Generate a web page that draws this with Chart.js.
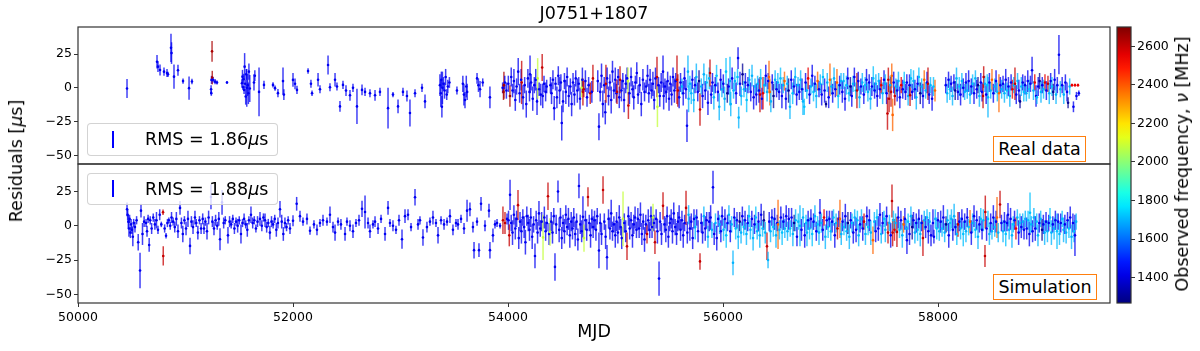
<!DOCTYPE html>
<html>
<head>
<meta charset="utf-8">
<script src="https://cdn.jsdelivr.net/npm/chart.js@4.4.1/dist/chart.umd.min.js"></script>
<style>
  body { margin: 0; background: #fff; font-family: "DejaVu Sans", sans-serif; }
  #wrap { position: relative; width: 1200px; height: 351px; overflow: hidden; }
  canvas { position: absolute; }
  .txt { position: absolute; color: #000; white-space: nowrap; font-size: 17.5px; }
  .rot { transform: translate(-50%, -50%) rotate(-90deg); }
  .leg { position: absolute; box-sizing: border-box; border: 1px solid rgba(200,200,200,0.8);
         border-radius: 4px; background: rgba(255,255,255,0.8); }
  .leg .mk { position: absolute; width: 1.5px; height: 17px; background: #0000ff; }
  .leg .lt { position: absolute; left: 57px; top: 0; font-size: 17.5px; }
  .tag { position: absolute; box-sizing: border-box; border: 1.5px solid #ff7f0e; background: #fff;
         display: flex; align-items: center; justify-content: center; font-size: 17.5px; }
</style>
</head>
<body>
<div id="wrap">
  <canvas id="top" width="1200" height="166" style="left:0;top:0"></canvas>
  <canvas id="bot" width="1200" height="191" style="left:0;top:160px"></canvas>
  <canvas id="cbar" width="90" height="351" style="left:1110px;top:0"></canvas>

  <div class="txt" style="left:594px;top:3px;transform:translateX(-50%)">J0751+1807</div>
  <div class="txt rot" style="left:16px;top:161px">Residuals [<i>μ</i>s]</div>
  <div class="txt rot" style="left:1182px;top:164px">Observed frequency, <i>ν</i> [MHz]</div>

  <div class="leg" style="left:87px;top:123px;width:191px;height:33px">
    <span class="mk" style="left:24px;top:7px"></span>
    <span class="lt" style="line-height:31px">RMS = 1.86<i>μ</i>s</span>
  </div>
  <div class="leg" style="left:87px;top:173px;width:191px;height:32px">
    <span class="mk" style="left:24px;top:6px"></span>
    <span class="lt" style="line-height:30px">RMS = 1.88<i>μ</i>s</span>
  </div>
  <div class="tag" style="left:993px;top:136px;width:93px;height:26px">Real data</div>
  <div class="tag" style="left:993px;top:274px;width:104px;height:26px">Simulation</div>
</div>

<script>
// axes
const xMin = 50000, xMax = 59600;
const yMin = -56.3, yMax = 45;
const cbMin = 1268, cbMax = 2700;
const xTicks = [50000, 52000, 54000, 56000, 58000];
const yTicks = [-50, -25, 0, 25];
const cbTicks = [1400, 1600, 1800, 2000, 2200, 2400, 2600];

// real data (top panel): MJD, residual [us], error [us], frequency [MHz]
const topMjd = [
  50456,50735,50744,50763,50800,50828,50837,50865,50870,50893,50930,50977,51033,51060,51238,51240,51242,51247,51249,51256,51275,51293,51386,
  51525,51530,51535,51540,51545,51550,51555,51560,51565,51570,51578,51585,51590,51598,51637,51645,51684,51730,51814,51833,51860,51907,51915,
  52000,52019,52037,52140,52167,52177,52233,52251,52326,52344,52391,52409,52437,52465,52493,52530,52558,52595,52642,52670,52716,52763,52809,
  52884,52930,52977,53023,53060,53088,53135,53200,53228,53367,53375,53380,53385,53390,53400,53410,53420,53430,53440,53455,53525,
  53580,53590,53600,53612,53620,53712,53725,53740,53765,53832,53950,53958,53962,53970,53985,
  54003,54018,54030,54042,54055,54068,54080,54095,54108,54122,54127,54140,54155,54170,54185,
  54200,54205,54215,54230,54245,54258,54270,54276,54290,54305,54318,54323,54335,54350,54360,
  54395,54405,54418,54430,54442,54455,54468,54480,54492,54500,54512,54525,54538,54550,54565,54580,54592,
  54605,54618,54630,54645,54658,54670,54685,54692,54697,54705,54720,54735,54750,54765,54780,54790,
  54835,54846,54858,54870,54882,54895,54905,54911,54922,54935,54948,54960,54972,54985,54998,55008,55014,55025,55035,55042,
  55055,55068,55080,55095,55108,55116,55120,55130,55145,55158,55170,55185,55198,55210,55225,55240,55255,55270,55285,55298,
  55310,55322,55335,55348,55360,55372,55386,55390,55400,55412,55425,55442,55448,55460,55472,55485,55498,
  55510,55522,55535,55548,55560,55572,55580,55592,55605,55618,55630,55642,55655,55665,55674,55680,55692,
  55705,55715,55728,55740,55752,55765,55777,55786,55798,55810,55822,55835,55848,55860,55872,55879,55890,
  55902,55915,55928,55940,55953,55965,55978,55990,56003,56015,56028,56040,56052,56065,56072,56085,56098,
  56110,56122,56135,56140,56146,56158,56170,56182,56195,56208,56220,56232,56245,56258,56270,56285,56298,
  56310,56322,56335,56344,56350,56362,56372,56385,56398,56410,56420,56428,56436,56445,56458,56470,56485,56498,
  56510,56522,56535,56548,56560,56572,56585,56598,56610,56623,56635,56648,56660,56672,56685,56698,
  56710,56722,56735,56744,56756,56768,56780,56792,56805,56818,56830,56842,56855,56868,56880,56893,
  56905,56918,56930,56945,56958,56970,56983,56995,57008,57020,57033,57045,57060,57072,57085,57098,
  57110,57122,57135,57148,57160,57172,57185,57198,57210,57222,57235,57246,57258,57270,57283,57296,
  57310,57322,57335,57348,57360,57372,57385,57398,57410,57422,57435,57448,57460,57472,57485,57498,
  57510,57522,57530,57538,57545,57555,57563,57570,57578,57588,57598,57608,57620,57632,57645,57658,57672,57686,57698,
  57710,57722,57735,57740,57748,57760,57772,57785,57798,57810,57822,57835,57848,57860,57872,57885,57898,57907,57918,57930,57945,57958,57972,
  58072,58085,58098,58110,58122,58135,58148,58160,58172,58185,58198,58210,58222,58235,58248,
  58260,58272,58285,58298,58310,58322,58335,58348,58360,58372,58385,58398,
  58410,58419,58425,58436,58448,58458,58465,58478,58490,58502,58515,58528,58540,58552,58567,58580,58592,
  58605,58618,58630,58642,58655,58668,58680,58692,58705,58716,58728,58740,58752,58763,58775,58788,58798,
  58810,58822,58835,58848,58860,58875,58888,58900,58912,58920,58932,58945,58958,58970,58982,58995,
  59008,59023,59035,59048,59060,59072,59085,59098,59110,59125,59138,
  59155,59170,59185,59200,59210,59225,59246,59260,59274,59288,59302,59310
];
const topRes = [
  -0.5,19.3,15.7,13.2,12,11,10,29.6,25.7,8.3,13,5,-0.2,4.7,-1,-3.9,5.9,27,7.6,6,4.6,4,4,
  3.4,8.3,0.5,6.4,-1.5,15.7,3,-6.4,10,0,2,-4,12,-0.5,4,9,-3,2.2,2.2,-0.2,-3.9,5,-5,
  5.9,3,-1.5,12.5,3,-4,6,-1,16.9,0.5,6,1,-13.7,2.2,-2,-5.5,0,-13.7,-1.5,-3,-4,-5.5,-3,
  -15,-5,-13.7,-3,-6,-18.6,-4,0,-10,2,-4,6,-14,0,3,-2,8,-5,1,4,-2,
  3,-5,-9,1,-3,7,2,-1,4,-7,0,-3,2,4,-2,
  3,-6,8,-2,5,-9,1,12,-4,6,4,-7,2,-12,7,
  -3,10,4,-8,2,6,-10,7,-1,-5,15,-6,3,-3,1,
  2,-4,6,-15,3,-7,9,-2,4,-26,-10,5,-3,8,-6,1,-12,
  4,-5,7,-2,3,-8,0,6,-3,-1,5,-7,2,-4,-3,7,
  5,-28.7,-3,9,-12,2,-18,3,7,-6,4,-9,12,-2,6,-4,-3,8,-7,6,
  -2,5,-9,3,7,5,-13,-4,8,-1,-7,4,11,-5,2,-12,6,-3,1,9,
  -4,6,-2,3,-9,7,8,-14,2,-6,4,12,-6,1,-3,5,-8,
  3,-5,8,-2,5,6,-2,-7,4,1,-4,7,-1,-28,12,-8,3,
  -4,6,-9,2,8,-3,5,-16,1,-6,10,-2,4,-11,7,11,-5,
  4,-7,2,9,-3,-14,6,-1,3,-8,12,-4,1,5,-12,7,-2,
  5,-4,8,22,-22,3,-6,10,-1,4,-9,2,6,-3,9,-7,1,
  -5,3,-2,-5,7,-8,-4,2,9,-3,5,8,-3,-10,4,-6,6,-1,
  4,-3,7,-6,2,5,-8,3,-2,-14,6,-4,1,8,-5,2,
  -3,6,-1,-10,-14,4,-2,7,-5,1,9,-3,3,-6,5,-1,
  3,-5,8,-2,-12,4,-7,6,1,-4,7,-1,4,-6,2,5,
  -3,5,-8,2,7,-4,1,-6,3,8,-2,-2,5,-7,1,4,
  -5,2,6,-3,4,-8,1,7,-2,3,-6,5,-1,2,-4,6,
  3,-4,-19,6,-8,2,-3,9,-20,4,-6,1,-2,5,-7,2,-1,4,-3,
  4,-6,2,-5.5,7,-3,5,-1,-7,3,8,-4,1,-6,6,-2,4,3,-5,2,-8,1,-2,
  2,-4,6,-1,3,-6,4,-2,7,-3,1,-5,5,0,-3,
  4,-2,5,-5,1,3,-4,7,-1,2,-6,4,
  -3,-6,8,3,-5,2,-7,4,-2,6,-4,1,5,-3,-4,2,-1,
  3,-4,6,-2,1,-6,4,-1,2,3,-5,5,-2,-10,1,4,-3,
  2,-4,5,-1,3,13,-2,4,-6,-7,1,5,-3,2,-1,4,
  -2,3,-4,5,1,-3,6,-5,2,24.5,-1,
  2,-5,4,-3,-11,1,2,-14,2,-6,2,-4
];
const topErr = [
  7,5,4,4,3,3,2,10.5,8,9,4,2,8.6,2,3,2,3,7.7,5,2,2,1.5,1,
  3,5,2,4,3,10,3,6,4,14,8,8,6,10,6,4,18,3,2,2,3,10,4,
  5,4,3,2,3,2,5,3,7,3,5,3,4,3,4,4,3,13,4,3,3,4,3,
  15,2,5,3,4,10,3,3,5,8,10,6,8,12,5,6,6,4,5,4,3,
  6,8,6,8,6,4,5,6,3,8,4,6,10,5,6,
  6,8,7,5,9,8,6,10,7,8,16,9,6,10,7,
  7,14,6,9,6,8,10,15,5,8,10,9,6,7,5,
  6,8,7,9,5,8,7,10,6,13,8,6,9,7,8,6,9,
  7,8,6,9,5,8,7,9,10,6,8,7,6,8,8,10,
  8,10,7,9,10,6,9,14,8,7,6,10,8,6,9,7,9,6,8,10,
  8,6,9,7,8,10,10,8,7,6,9,5,8,7,6,9,8,7,5,8,
  7,8,6,9,7,8,15,15,6,8,7,12,10,6,8,7,9,
  6,8,7,9,6,18,12,8,7,6,9,8,7,12,12,10,6,
  8,7,9,6,10,7,8,12,6,9,8,7,6,9,8,10,7,
  7,9,6,8,7,10,8,6,7,9,10,7,6,18,9,8,6,
  7,8,6,8,8,9,7,8,6,7,9,6,8,7,8,9,6,
  8,6,9,13,7,8,12,6,8,7,6,12,10,8,6,9,7,6,
  7,6,8,9,6,7,8,6,9,9,7,8,6,7,8,6,
  6,7,8,10,6,7,6,8,7,6,8,7,6,9,7,6,
  7,8,6,9,2.5,7,8,12,6,7,8,6,10,9,7,6,
  8,6,9,7,8,6,7,8,6,7,6,13,7,8,6,7,
  7,6,8,7,6,8,7,9,6,7,8,6,7,6,8,7,
  7,8,12,9,10,7,11,9,12,8,7,6,8,7,8,6,7,8,6,
  6,7,8,8,7,6,8,7,9,6,7,8,6,9,7,6,8,12,7,6,9,7,8,
  6,7,6,8,6,7,6,7,8,6,7,8,6,7,6,
  7,6,8,7,6,7,8,6,7,6,8,7,
  7,9,8,6,7,8,15,7,6,8,7,6,8,7,14,6,7,
  6,7,8,6,7,8,6,7,6,12,7,6,8,5,7,6,7,
  7,6,8,7,6,10,7,6,8,5,7,6,8,6,7,6,
  7,6,8,6,7,6,8,7,6,14.5,6,
  6,7,6,7,4,6,1,4,1,3,1,2
];
const topFreq = [
  1430,1430,1430,1430,1430,1430,1430,1430,1430,1430,1430,1430,1430,1430,1430,1430,1430,2640,2640,1430,1430,1430,1430,
  1430,1430,1430,1430,1430,1430,1430,1430,1430,1430,1430,1430,1430,1430,1430,1430,1430,1430,1430,1430,1430,1430,1430,
  1430,1430,1430,1430,1430,1430,1430,1430,1430,1430,1430,1430,1430,1430,1430,1430,1430,1430,1430,1430,1430,1430,1430,
  1430,1430,1430,1430,1430,1430,1430,1430,1430,1430,1430,1430,1430,1430,1430,1430,1430,1430,1430,1430,1430,
  1430,1430,1430,1430,1430,1430,1430,1430,1430,1430,1430,2640,2640,1430,1430,
  1430,2640,1430,1430,1430,1430,1430,1430,1430,1430,2600,1430,1430,1430,1430,
  1430,1430,1430,1430,1430,1430,1430,2080,1430,1430,2600,1430,1430,1430,1430,
  1430,1430,1430,1430,1430,1430,1430,1430,1430,1430,1430,1430,1430,1430,1430,1430,1430,
  1430,1430,1430,1430,1430,1430,2080,1430,2600,2600,1430,1430,1430,2600,1430,2600,
  1430,1430,1430,1430,1430,1430,1430,2600,1430,1430,1430,1430,1430,1430,1430,1430,2600,1430,1430,2600,
  1430,1430,1430,1430,1430,2080,2600,1430,1430,1430,1430,1430,1430,1430,1430,1430,1430,1430,1430,1430,
  1430,1430,1430,1430,1430,1430,2600,2080,1430,1430,1430,1430,1430,1430,1430,1430,1430,
  1430,1430,1430,1430,1430,2600,2600,1430,1430,1700,1430,1430,1430,1430,1700,1700,1700,
  1700,1430,1700,1430,1700,1430,1300,2600,1700,1430,1700,1430,1720,1430,1700,2600,1430,
  1430,1700,1430,1720,1430,1700,1430,1700,1430,1700,1720,1300,1430,1700,1700,1430,1700,
  1700,1430,1720,1430,1700,1430,1700,1300,1700,1430,1720,1430,1700,1430,1700,1430,1700,
  1430,1700,1430,2600,1720,1430,2550,1700,1430,1700,1430,2380,2380,1700,1430,1300,1700,1430,
  1700,1430,1720,1430,1700,2380,1430,1700,1300,1700,1430,1720,1430,1700,1430,1700,
  1430,1700,1430,1700,1720,1430,1700,2550,1430,1700,1430,1720,1430,1700,2380,1430,
  1700,1430,1720,1430,1300,1700,1430,2380,1700,1430,1700,1430,2380,1720,1430,1700,
  1430,1700,1430,1720,1430,1700,1300,1430,1700,1430,1720,2600,1430,1700,1430,1700,
  1430,1720,1430,1700,1430,1700,1430,1720,1430,1700,1430,1700,1430,2550,1700,1430,
  1700,1430,2600,2600,2600,1700,2600,2380,2380,1430,2600,1700,1430,1700,1430,2550,1430,1720,1430,
  1430,1700,1430,2600,1720,1430,1700,1430,1700,1430,1720,1300,1700,1430,2380,1700,1430,2600,1430,1700,1430,1720,2380,
  1430,1700,1430,1720,1430,1700,1430,1300,1700,1430,1720,1430,1700,1430,1700,
  1430,1700,1430,1700,1430,1720,1430,1700,1430,1300,1700,1430,
  1430,2600,2600,1700,1430,1720,1700,1430,1700,2380,1430,1700,1430,1720,2380,1430,1700,
  1430,1700,1430,1720,1430,1700,1430,2550,1700,2600,1430,1700,1430,1300,1700,1430,1720,
  1430,1700,1430,1720,1430,1430,1700,2550,1430,1700,1430,1300,1700,1430,1720,2550,
  1430,2600,1700,1430,1720,1300,1430,1700,1430,1430,1700,
  1430,1700,1430,1430,1300,1700,2550,1430,2550,1430,2550,1430
];

// simulation (bottom panel)
const botMjd = [
  50456,50462,50468,50474,50480,50487,50494,50502,50510,50518,50530,50545,50560,50577,50586,50600,50615,50633,50642,50652,50662,50672,50685,50700,50715,50730,50744,50760,50775,50791,50793,50806,50819,50832,50845,50858,50870,50885,50900,50915,
  50930,50949,50962,50975,50990,51005,51023,51042,51055,51070,51088,51100,51115,51130,51145,51160,51172,51185,51200,51215,51237,51250,51265,51280,51295,51310,51321,51340,51355,51370,51395,51410,51425,51440,51455,51470,51485,51500,51516,51530,
  51545,51560,51575,51590,51609,51625,51640,51655,51670,51693,51710,51725,51740,51755,51770,51785,51800,51815,51830,51845,51860,51879,51895,51910,51925,51940,51955,51972,
  52000,52034,52065,52093,52130,52158,52195,52223,52251,52279,52316,52344,52372,52391,52419,52446,52484,52502,52530,52558,52586,52614,52642,52670,52698,52716,52744,52763,52791,52819,52856,52884,52902,52930,52958,52986,
  53014,53042,53070,53098,53135,53163,53181,53209,53246,53274,53302,53330,53349,53377,53405,53433,53460,53488,53516,53535,53563,53591,53619,53646,53674,53684,53712,53730,53749,53786,53823,53832,53860,53879,53898,53926,53953,53972,53991,
  54005,54012,54019,54030,54042,54055,54068,54080,54093,54100,54112,54125,54138,54150,54162,54175,54188,
  54200,54212,54225,54238,54251,54262,54275,54288,54300,54313,54326,54338,54350,54362,54372,54382,54391,
  54402,54414,54426,54437,54448,54465,54476,54488,54500,54512,54525,54538,54550,54562,54575,54588,
  54600,54612,54625,54638,54650,54660,54672,54685,54697,54707,54720,54732,54744,54756,54768,54780,54792,
  54805,54818,54830,54846,54858,54870,54884,54896,54908,54921,54935,54948,54960,54972,54985,54998,
  55010,55022,55035,55048,55058,55070,55082,55095,55107,55120,55132,55145,55158,55170,55182,55195,
  55208,55220,55232,55245,55258,55270,55282,55293,55305,55318,55330,55340,55349,55358,55367,55378,55390,
  55405,55415,55428,55442,55455,55468,55480,55492,55505,55518,55530,55542,55555,55568,55580,55592,
  55605,55618,55630,55643,55656,55668,55680,55692,55705,55718,55730,55742,55755,55768,55786,55798,
  55810,55822,55835,55848,55860,55872,55885,55897,55907,55918,55930,55942,55955,55968,55980,55992,
  56005,56018,56030,56042,56055,56068,56080,56093,56105,56118,56130,56142,56155,56168,56180,56193,
  56205,56218,56230,56242,56255,56268,56280,56293,56305,56318,56330,56342,56355,56368,56380,56393,
  56409,56419,56430,56442,56455,56468,56480,56493,56505,56512,56525,56538,56550,56562,56575,56588,
  56600,56612,56625,56638,56650,56662,56675,56688,56700,56716,56730,56745,56760,56772,56781,56792,
  56805,56818,56830,56842,56855,56868,56880,56893,56902,56915,56928,56940,56952,56965,56978,56990,
  57003,57015,57028,57040,57052,57065,57078,57088,57100,57112,57125,57138,57150,57162,57175,57188,
  57200,57212,57225,57238,57250,57262,57275,57288,57300,57312,57325,57338,57350,57362,57375,57395,
  57408,57420,57432,57445,57460,57472,57485,57498,57510,57522,57535,57548,57560,57572,57578,57585,57595,
  57605,57618,57630,57642,57655,57668,57680,57692,57705,57711,57722,57735,57748,57760,57772,57785,57798,
  57810,57822,57835,57848,57860,57872,57885,57898,57910,57922,57935,57953,57962,57975,57988,58000,
  58012,58025,58038,58050,58062,58075,58088,58100,58112,58125,58138,58150,58162,58175,58186,58198,
  58210,58222,58235,58248,58260,58272,58285,58298,58310,58322,58335,58348,58360,58372,58385,58398,
  58410,58422,58437,58440,58452,58465,58478,58490,58502,58515,58528,58540,58549,58560,58577,58590,
  58605,58618,58630,58642,58651,58662,58675,58688,58700,58712,58725,58738,58750,58762,58775,58788,
  58800,58812,58825,58838,58850,58856,58868,58880,58892,58905,58918,58930,58942,58955,58968,58980,58992,
  59005,59018,59030,59042,59055,59068,59080,59092,59107,59118,59130,59142,59155,59168,59180,59192,59205,59218,59230,59242,59255,59265,59274,59285
];
const botRes = [
  12,8,3,-2,5,-5,1,-3,-8,2,-1,4,-12,-32.6,11,-6,3,2,-4,5,-14,4,-2,6,1,4,-3,8,1,9.8,-22,-2,-7.3,2,4,0,6,3,-1,5,
  -4,13,2,-6,4,-2,5,-14.7,3,-1,6,2,-5,4,-2,5,-2,3,-4,6,21,3,-2,4,0,5,-9.8,17,2,4,-7,3,1,5,-2,3,0,4,-6,2,
  5,1,-3,4,8,2,4,-2,3,5,0,6,4,-1,2,-5,3,1,5,-3,2,12,3,-6,2,-1,4,-2,
  3.6,16,7,3,5,-3.6,1,-3,2,4,3,8,-1,-5,3,1,-6,3,0,-4,2,4,12.3,10,2,-4,1,3,-2,5,-6,13,2,0,-3,4,
  -9.8,7,8,-1,20.8,1,4,-8.6,-1,3,6,2,-7,4,1,3,7,-3,2,1,5,-2,11,12,-1,-17.8,3,-17.8,16,0,11,-17.8,-7,1,2,0,4,2,5,
  4,-7,22.5,2,-5,8,-2,5,15,-9,3,-4,6,-1,-12,7,2,
  -3,6,-8,1,-22,4,-5,9,-2,3,-8.5,6,-4,2,21.5,-6,-4.5,
  3,-5,7,-30,1,25,-3,6,-9,2,-4,8,-1,5,-7,3,
  -2,6,-6,3,-10,29,1,-4,6.5,-9,4,-3,21,2,-7,5,-1,
  4,-3,7,-18,2,-6,26,3,-8,-23,5,-2,9,-4,1,-7,
  3,-5,6,-1,-9,5,2,-4,-15,7,-2,4,-7,1,6,-3,
  5,-2,8,-6,3,-10,1,-6,4,-3,7,-1,6,2,-12,5,-4,
  -38.5,3,-6,14.5,1,-3,7,-8,2,5,-4,9,-1,-6,3,6,
  -3,4,-7,2,13,-5,8,-2,3,-9,5,-1,6,-4,-26,2,
  -5,7,-2,4,-8,3,6,-3,28,-6,2,-9,5,1,-4,7,
  -3,5,-7,2,8,-4,1,-27,6,-2,4,-8,3,-5,7,-1,
  4,-6,2,7,-3,5,-9,1,6,-4,3,-7,8,-2,4,-5,
  -15,-25,3,-4,6,-1,5,-7,2,1,-3,6,-5,3,-2,7,
  -4,5,-2,6,-6,2,4,-8,3,0,-3,6,-7,2,-5,4,
  -2,5,-6,3,7,-4,1,-5,9.5,2,-3,6,-8,4,-1,5,
  -4,3,6,-7,2,-2,5,5,-6,3,-1,7,-4,2,-8,4,
  2,-5,6,-3,4,-7,1,5,-2,3,-6,7,-1,4,-5,-10.5,
  3,-4,6,-2,8,-6,2,5,-3,7,-5,2,-7,18,-5,4,-3,
  2,-4.5,6,-3,4,-7,1,5,-2,-10.5,3,-6,7,-1,4,-5,2,
  -3,5,-6,2,-9,4,-1,6,-4,3,-7,2,-8,5,-2,4,
  -4,3,-2,6,-5,1,4,-7,2,5,-3,7,-1,-6,1,3,
  -2,5,-6,3,-4,6,-1,3,-5,2,7,-3,4,-8,1,5,
  -3,4,-22,10,-2,5,-6,2,-4,6,-1,3,6,-5,15.5,2,
  -4,3,-6,2,8,-3,5,-7,1,4,-2,6,-5,2,-1,3,
  -3,5,-2,4,-6,9.5,1,-4,6,-2,3,-7,2,5,-3,1,-5,
  3,-4,2,6,-5,1,-2,4,-4,3,-6,2,5,-3,1,-5,4,-2,6,-8,2,-4,-7,3
];
const botErr = [
  5,4,5,6,3,4,4,3,7,3,4,3,6,13,5,8,4,3,4,3,5,3,4,3,4,6,3,4,2,2,7,3,2,3,2,3,4,3,4,5,
  5,5,4,6,3,5,6,6,4,5,5,3,5,3,4,4,4,3,6,5,9,4,5,4,3,5,8,9,4,3,6,4,3,3,4,3,5,3,7,3,
  4,3,5,3,6,4,3,3,4,5,4,3,5,4,3,5,4,3,3,5,4,6,5,5,4,3,3,4,
  4,5,4,3,4,3,3,4,3,4,3,6,4,6,3,4,5,3,4,5,3,4,6,12,4,5,3,4,4,3,5,5,3,4,3,4,
  7,5,4,3,6,4,3,6,4,3,5,3,6,3,4,3,5,4,3,4,3,4,8,5,4,6,3,5,5,4,5,6,5,3,3,2,10,8,4,
  7,8,11,6,9,7,8,6,11,8,7,9,6,8,9,7,6,
  8,7,9,6,9,7,8,9,6,7,16.5,8,7,6,10,8,10,
  7,8,6,10,7,8,9,7,8,6,9,7,6,8,9,7,
  8,7,9,6,8,9,7,8,15,10,7,8,7,6,9,7,8,
  7,8,6,13,7,8,10,6,9,9,7,8,10,7,6,9,
  7,8,9,6,8,20,7,8,10,7,8,6,9,7,8,6,
  8,7,9,8,6,9,7,7,8,6,7,8,10,6,8.5,7,9,
  12.5,7,8,10,6,9,7,8,6,7,9,8,6,8,7,9,
  8,7,9,6,12.5,8,7,9,6,8,7,9,6,8,6,7,
  8,7,9,6,8,7,9,6,12,8,7,9,6,7,8,7,
  8,7,9,6,7,8,6,9,7,8,6,9,7,8,7,6,
  7,8,6,8,7,6,9,7,8,6,7,9,8,6,7,8,
  10,6,7,8,6,7,8,9,6,18,7,8,9,6,7,8,
  7,8,6,7,9,6,8,7,6,15,8,7,9,6,10,7,
  8,7,9,6,8,7,6,9,10,7,8,6,9,7,8,6,
  7,8,6,9,7,8,6,14,8,7,6,9,7,8,9,6,
  7,8,6,9,7,8,6,7,9,6,8,7,6,8,9,10,
  7,8,6,9,8.5,7,8,6,9,7,8,6,9,12,10,7,8,
  7,11,8,6,7,9,6,8,7,10,6,8,7,9,6,8,7,
  8,7,9,6,13,7,8,6,9,7,8,10,5,7,8,6,
  7,8,6,9,7,6,8,9,6,7,8,9,6,8,9,7,
  8,7,9,6,8,7,6,8.5,9,7,8,6,7,9,6,8,
  7,8,8,12,9,6,8,7,6,9,7,8,15,7,10,6,
  8,7,9,6,8.5,7,8,9,6,7,8,6,9,7,8,6,
  7,6,8,7,9,14.7,6,8,7,9,6,8,7,6,8,7,9,
  7,8,6,7,9,6,8,7,13,6,8,7,6,9,7,8,6,7,8,9,7,8,15,6
];
const botFreq = [
  1430,1430,1430,1430,1430,1430,1430,1430,1430,1430,1430,1430,1430,1430,1430,1430,1430,1430,1430,1430,1430,1430,1430,1430,1430,1430,1430,1430,1430,2600,2600,1430,1430,1430,1430,1430,1430,1430,1430,1430,
  1430,1430,1430,1430,1430,1430,1430,1430,1430,1430,1430,1430,1430,1430,1430,1430,1430,1430,1430,1430,1430,1430,1430,1430,1430,1430,1430,1430,1430,1430,1430,1430,1430,1430,1430,1430,1430,1430,1430,1430,
  1430,1430,1430,1430,1430,1430,1430,1430,1430,1430,1430,1430,1430,1430,1430,1430,1430,1430,1430,1430,1430,1430,1430,1430,1430,1430,1430,1430,
  1430,1430,1430,1430,1430,1430,1430,1430,1430,1430,1430,1430,1430,1430,1430,1430,1430,1430,1430,1430,1430,1430,1430,1430,1430,1430,1430,1430,1430,1430,1430,1430,1430,1430,1430,1430,
  1430,1430,1430,1430,1430,1430,1430,1430,1430,1430,1430,1430,1430,1430,1430,1430,1430,1430,1430,1430,1430,1430,1430,1430,1430,1430,1430,1430,1430,1430,1430,1430,1430,1430,1430,1430,2600,2600,1430,
  1430,2600,1430,1430,1430,1430,1430,1430,2600,1430,1430,1430,1430,1430,1430,1430,1430,
  1430,1430,1430,1430,1430,1430,1430,1430,1430,1430,2080,1430,1430,1430,2600,1430,2080,
  1430,1430,1430,1430,1430,1430,1430,1430,1430,1430,1430,1430,1430,1430,1430,1430,
  1430,1430,1430,1430,1430,1430,1430,1430,1430,2080,1430,1430,2600,1430,1430,1430,1430,
  1430,1430,1430,1430,1430,1430,2600,1430,1430,1430,1430,1430,1430,1430,1430,1430,
  1430,1430,1430,1430,1430,2080,1430,1430,2600,1430,1430,1430,1430,1430,1430,1430,
  1430,1430,1430,1430,1430,1430,1430,2600,1430,1430,1430,1430,2080,1430,2600,1430,1430,
  1430,1430,1430,2600,1430,1430,1430,1430,1430,1430,1430,1430,1430,1430,1430,1430,
  1430,1430,1430,1430,2600,1430,1700,1430,1430,1430,1430,1700,1430,1430,2600,1430,
  1430,1700,1430,1430,1700,1430,1430,1700,1430,1430,1700,1430,1430,1700,1430,1430,
  1700,1430,1720,1430,1700,1430,1700,1700,1430,1720,1430,1700,1300,1700,1430,1720,
  1430,1700,1430,1720,1700,1430,1700,1430,1720,1700,1430,1700,1430,1720,1300,1700,
  2600,1700,1430,1700,1430,1720,1430,1700,1430,2380,1700,1430,1720,1430,1700,1430,
  1700,1430,1720,1430,1700,1300,1700,1430,1720,1700,1430,1700,1430,1720,1700,1430,
  1700,1430,1720,1430,1700,1430,1720,1700,1430,1700,1430,2550,1700,1430,1720,1430,
  1700,1430,1720,1430,1700,2600,1430,2380,1700,1430,1720,1430,1700,1300,1700,1430,
  1720,1430,1700,1430,1720,1700,1430,1700,1430,2600,1700,1430,1720,1430,1700,2380,
  1700,1430,1720,1430,1430,1700,1430,1720,1700,1430,2600,1700,1430,2600,2600,1720,2550,
  1700,2600,1430,1720,1430,1700,2380,1430,1700,1430,1720,1430,1700,1300,1430,1700,1430,
  1720,1430,1700,1430,2600,1700,1430,1720,1430,1700,1430,1430,1430,1700,1720,1430,
  1700,1430,1720,1430,1700,1300,1700,1430,1720,1700,1430,1700,1430,1720,2600,1430,
  1700,1430,1720,1430,1700,1430,1720,2380,1430,1700,1430,1720,1430,1700,1430,1720,
  1430,1700,2600,2600,1430,1720,1700,1430,1700,1430,1720,1430,2380,1700,2600,1430,
  1700,1430,1720,1430,1430,1700,1430,1700,1720,1430,2550,1700,1430,1720,1430,1700,
  1430,1700,1430,1720,1430,1720,1700,1430,1700,1430,1720,1700,1430,1700,1300,1430,1700,
  1430,1700,1430,1720,1700,1430,1700,1430,1720,1430,1700,1430,1720,1700,1430,1700,1430,1720,1430,1700,1430,1720,1430,1700
];

// jet colour map over the colour bar range
function jet(f, a = 1) {
  const t = Math.min(1, Math.max(0, (f - cbMin) / (cbMax - cbMin)));
  const c = v => Math.round(255 * Math.min(1, Math.max(0, 1.5 - Math.abs(4 * t - v))));
  return `rgba(${c(3)},${c(2)},${c(1)},${a})`;
}

function points(m, r, e, f) {
  return m.map((x, i) => ({ x: x, y: r[i], e: e[i], f: f[i] }));
}

const font = { family: 'DejaVu Sans', size: 12.5 };

// vertical error bars, drawn under the markers
const errorBars = {
  id: 'errorBars',
  beforeDatasetsDraw(chart) {
    const { ctx, chartArea: a, scales: { x, y } } = chart;
    ctx.save();
    ctx.beginPath();
    ctx.rect(a.left, a.top, a.right - a.left, a.bottom - a.top);
    ctx.clip();
    ctx.lineWidth = 1.5;
    chart.data.datasets[0].data.forEach(p => {
      if (p.y === undefined || p.e === undefined) return;
      const px = x.getPixelForValue(p.x);
      ctx.strokeStyle = jet(p.f, 0.75);
      ctx.beginPath();
      ctx.moveTo(px, y.getPixelForValue(p.y - p.e));
      ctx.lineTo(px, y.getPixelForValue(p.y + p.e));
      ctx.stroke();
    });
    ctx.restore();
  }
};

const frame = {
  id: 'frame',
  afterDatasetsDraw(chart) {
    const { ctx, chartArea: a } = chart;
    ctx.save();
    ctx.strokeStyle = '#333';
    ctx.lineWidth = 1.2;
    ctx.strokeRect(a.left, a.top, a.right - a.left, a.bottom - a.top);
    ctx.restore();
  }
};

// keep tick-label overhang from shifting the plot area
function noOverhang(s) {
  s.paddingTop = 0;
  s.paddingBottom = 0;
}

function panel(id, pts, showX) {
  return new Chart(document.getElementById(id), {
    type: 'scatter',
    data: {
      datasets: [{
        data: pts,
        pointRadius: 1.3,
        pointHoverRadius: 1.3,
        borderWidth: 0,
        backgroundColor: c => (c.raw ? jet(c.raw.f) : '#0000ff')
      }]
    },
    options: {
      responsive: false,
      animation: false,
      events: [],
      layout: { padding: showX ? { top: 4, right: 90, left: 0, bottom: 0 } : { top: 27, right: 90, left: 0, bottom: 2 } },
      plugins: { legend: { display: false }, tooltip: { enabled: false } },
      scales: {
        x: {
          type: 'linear', min: xMin, max: xMax, display: showX,
          afterBuildTicks: s => { s.ticks = xTicks.map(v => ({ value: v })); },
          afterFit: s => { s.height = showX ? 48 : 0; },
          grid: { drawOnChartArea: false, tickLength: 4, color: '#333' },
          border: { display: false },
          ticks: { font, color: '#000', padding: 3, maxRotation: 0, callback: v => String(v) },
          title: { display: true, text: 'MJD', color: '#000', font: { family: 'DejaVu Sans', size: 17.5 }, padding: { top: 0, bottom: 8 } }
        },
        y: {
          min: yMin, max: yMax,
          afterBuildTicks: s => { s.ticks = yTicks.map(v => ({ value: v })); },
          afterFit: s => { s.width = 78; noOverhang(s); },
          grid: { drawOnChartArea: false, tickLength: 4, color: '#333' },
          border: { display: false },
          ticks: { font, color: '#000', padding: 2, callback: v => String(v).replace('-', '\u2212') }
        }
      }
    },
    plugins: [errorBars, frame]
  });
}

panel('top', points(topMjd, topRes, topErr, topFreq), false);
panel('bot', points(botMjd, botRes, botErr, botFreq), true);

// colour bar
const gradientBar = {
  id: 'gradientBar',
  beforeDatasetsDraw(chart) {
    const { ctx, chartArea: a, scales: { y } } = chart;
    const g = ctx.createLinearGradient(0, y.getPixelForValue(cbMin), 0, y.getPixelForValue(cbMax));
    for (let i = 0; i <= 20; i++) {
      g.addColorStop(i / 20, jet(cbMin + (cbMax - cbMin) * i / 20));
    }
    ctx.save();
    ctx.fillStyle = g;
    ctx.fillRect(a.left, a.top, a.right - a.left, a.bottom - a.top);
    ctx.restore();
  }
};

new Chart(document.getElementById('cbar'), {
  type: 'scatter',
  data: { datasets: [] },
  options: {
    responsive: false,
    animation: false,
    events: [],
    layout: { padding: { left: 7, top: 27, bottom: 48, right: 0 } },
    plugins: { legend: { display: false }, tooltip: { enabled: false } },
    scales: {
      x: { display: false, min: 0, max: 1 },
      y: {
        position: 'right', min: cbMin, max: cbMax,
        afterBuildTicks: s => { s.ticks = cbTicks.map(v => ({ value: v })); },
        afterFit: s => { s.width = 69; noOverhang(s); },
        grid: { drawOnChartArea: false, tickLength: 4, color: '#333' },
        border: { display: false },
        ticks: { font, color: '#000', padding: 2, callback: v => String(v) }
      }
    }
  },
  plugins: [gradientBar, frame]
});
</script>
</body>
</html>
